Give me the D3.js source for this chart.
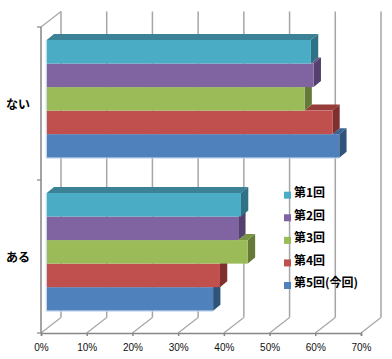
<!DOCTYPE html>
<html>
<head>
<meta charset="utf-8">
<script src="https://cdn.jsdelivr.net/npm/d3@7"></script>
<style>
html, body { margin: 0; padding: 0; background: #fff; }
svg { display: block; }
.tick-label { font-family: "Liberation Sans", sans-serif; font-size: 10px; fill: #111; -webkit-text-stroke: 0.2px #111; }
.cat-label, .legend-label { font-family: "Noto Sans CJK JP", sans-serif; fill: #000; font-weight: 700; }
</style>
</head>
<body>
<div id="chart"></div>
<script>
// データ
const categories = ['ない', 'ある'];
const seriesNames = ['第1回', '第2回', '第3回', '第4回', '第5回(今回)'];
const values1 = [57.8, 42.5];
const values2 = [58.4, 41.9];
const values3 = [56.4, 44.0];
const values4 = [62.5, 37.9];
const values5 = [64.0, 36.4];
const seriesValues = [values1, values2, values3, values4, values5];
const frontColors = ['#4bacc6', '#8064a2', '#9bbb59', '#c0504d', '#4f81bd'];
const topColors = ['#3b8297', '#634d7e', '#7a9445', '#963c3a', '#3d6594'];
const sideColors = ['#2f7285', '#53406f', '#657a39', '#7f302e', '#2f5379'];
const xTicks = [0, 10, 20, 30, 40, 50, 60, 70];

const width = 392, height = 359;
const svg = d3.select('#chart').append('svg').attr('width', width).attr('height', height);

// 壁と床の奥行き
const wallDx = 20, wallDy = 15.5;
const barInset = 5.7, barDx = 7.3, barDy = 6;
const axisTop = 27, axisBottom = 333;

const x = d3.scaleLinear().domain([0, 70]).range([41, 361]);
const yCat = d3.scaleBand().domain(categories).range([axisTop, axisBottom]);
const yBar = d3.scaleBand().domain(seriesNames).range([0, 117.7]);

const gridColor = '#a6a6a6', axisColor = '#868686';

// 奥の壁の目盛線と床の斜線
const grid = svg.append('g').attr('fill', 'none');
grid.selectAll('line.wall')
    .data(xTicks)
    .enter()
    .append('line')
    .attr('class', 'wall')
    .attr('x1', d => x(d) + wallDx)
    .attr('x2', d => x(d) + wallDx)
    .attr('y1', axisTop - wallDy)
    .attr('y2', axisBottom - wallDy)
    .attr('stroke', gridColor)
    .attr('stroke-width', 1.5);
grid.selectAll('line.floor')
    .data(xTicks)
    .enter()
    .append('line')
    .attr('class', 'floor')
    .attr('x1', d => x(d))
    .attr('x2', d => x(d) + wallDx)
    .attr('y1', axisBottom)
    .attr('y2', axisBottom - wallDy)
    .attr('stroke', gridColor)
    .attr('stroke-width', 1.2);

// 左の壁の斜線と縦軸
svg.append('line')
    .attr('x1', x(0)).attr('x2', x(0) + wallDx)
    .attr('y1', axisTop).attr('y2', axisTop - wallDy)
    .attr('stroke', gridColor).attr('stroke-width', 1.2);
svg.append('line')
    .attr('x1', x(0)).attr('x2', x(0))
    .attr('y1', axisTop).attr('y2', axisBottom)
    .attr('stroke', axisColor).attr('stroke-width', 1.5);
svg.selectAll('line.cat-tick')
    .data([axisTop, (axisTop + axisBottom) / 2, axisBottom])
    .enter()
    .append('line')
    .attr('class', 'cat-tick')
    .attr('x1', x(0) - 4).attr('x2', x(0))
    .attr('y1', d => d).attr('y2', d => d)
    .attr('stroke', axisColor).attr('stroke-width', 1.2);

// 横軸
const xAxis = d3.axisBottom(x).tickValues(xTicks).tickFormat(d => d + '%').tickSize(3).tickPadding(8);
const xAxisG = svg.append('g').attr('transform', `translate(0,${axisBottom})`).call(xAxis);
xAxisG.selectAll('path, line').attr('stroke', axisColor).attr('stroke-width', 1.5);
xAxisG.selectAll('text').attr('class', 'tick-label').attr('fill', null);
xAxisG.attr('font-size', null).attr('font-family', null);

// 棒 (下の系列から描く)
const x0 = x(0) + barInset;
const px = v => x0 + (x(v) - x(0));

categories.forEach((cat, c) => {
    const groupTop = yCat(cat) + 13;
    for (let s = seriesNames.length - 1; s >= 0; s--) {
        const name = seriesNames[s];
        const v = seriesValues[s][c];
        const yTop = groupTop + yBar(name);
        const h = yBar.bandwidth();
        const xEnd = px(v);
        // 上面は上の棒より長い部分だけ見える
        const xStart = s === 0 ? x0 : Math.min(px(seriesValues[s - 1][c]), xEnd);
        svg.append('path')
            .attr('d', `M${xStart},${yTop}L${xEnd},${yTop}L${xEnd + barDx},${yTop - barDy}L${xStart + barDx},${yTop - barDy}Z`)
            .attr('fill', topColors[s]);
        svg.append('path')
            .attr('d', `M${xEnd},${yTop}L${xEnd + barDx},${yTop - barDy}L${xEnd + barDx},${yTop + h - barDy}L${xEnd},${yTop + h}Z`)
            .attr('fill', sideColors[s]);
        svg.append('rect')
            .attr('x', x0)
            .attr('y', yTop)
            .attr('width', xEnd - x0)
            .attr('height', h)
            .attr('fill', frontColors[s]);
    }
    // 棒の左と下の薄い縁
    const groupBottom = groupTop + 117.7;
    svg.append('path')
        .attr('d', `M${x0 - 0.5},${groupTop}V${groupBottom + 0.5}H${px(seriesValues[4][c])}`)
        .attr('fill', 'none')
        .attr('stroke', '#c6d9ec')
        .attr('stroke-width', 1);
});

// カテゴリラベル
svg.selectAll('text.cat-label')
    .data(categories)
    .enter()
    .append('text')
    .attr('class', 'cat-label')
    .attr('x', 6)
    .attr('y', d => yCat(d) + yCat.bandwidth() / 2 + 1)
    .attr('dy', '0.36em')
    .attr('font-size', 12)
    .text(d => d);

// 凡例
const legendY = d3.scalePoint().domain(seriesNames).range([194.7, 285]);
seriesNames.forEach((name, i) => {
    svg.append('rect')
        .attr('x', 284).attr('y', legendY(name) - 3)
        .attr('width', 7).attr('height', 7)
        .attr('fill', frontColors[i]);
    svg.append('text')
        .attr('class', 'legend-label')
        .attr('x', 294)
        .attr('y', legendY(name) - 2)
        .attr('dy', '0.36em')
        .attr('font-size', 12)
        .text(name);
});
</script>
</body>
</html>
